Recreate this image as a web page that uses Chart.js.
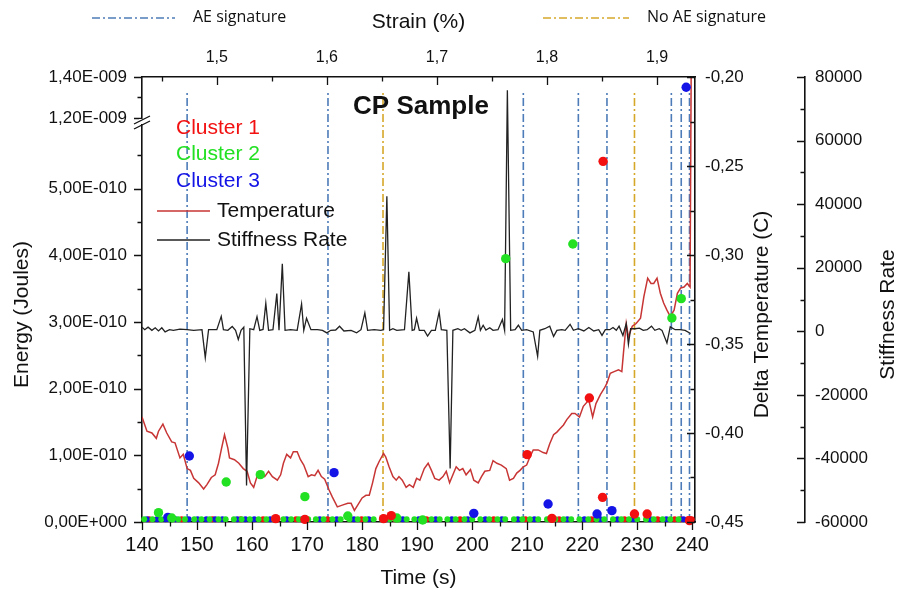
<!DOCTYPE html>
<html lang="en">
<head>
<meta charset="UTF-8">
<title>CP Sample</title>
<script src="https://cdn.jsdelivr.net/npm/chart.js"></script>
<style>
  body { margin: 0; background: #fff; }
  #wrap { width: 897px; height: 593px; }
</style>
</head>
<body>
<div id="wrap"><canvas id="chart" width="897" height="593"></canvas></div>
<script>
// ---- values ----
const timeRange = [140, 240.5];          // s
const strainRange = [1.432, 1.9345];     // % at both ends of the time axis

const timeTicks = [140, 145, 150, 155, 160, 165, 170, 175, 180, 185, 190, 195, 200, 205, 210, 215, 220, 225, 230, 235, 240];
const strainTicks = [1.45, 1.5, 1.55, 1.6, 1.65, 1.7, 1.75, 1.8, 1.85, 1.9];
const energyTicksLow = [0, 0.5e-10, 1e-10, 1.5e-10, 2e-10, 2.5e-10, 3e-10, 3.5e-10, 4e-10, 4.5e-10, 5e-10, 5.5e-10];
const energyTicksHigh = [1.2e-9, 1.3e-9, 1.4e-9];
const tempTicks = [-0.45, -0.425, -0.4, -0.375, -0.35, -0.325, -0.3, -0.275, -0.25, -0.225, -0.2];
const stiffTicks = [-60000, -50000, -40000, -30000, -20000, -10000, 0, 10000, 20000, 30000, 40000, 50000, 60000, 70000, 80000];

const aeSignatureT = [148.2, 173.8, 209.3, 219.3, 224.5, 236.2, 238.0, 239.5];
const noAeSignatureT = [183.8, 229.5];

const tempT = [140.0, 140.9, 141.8, 142.6, 143.0, 143.8, 144.5, 145.4, 146.0, 146.9, 147.5, 148.2, 148.8, 149.4, 150.3,
  151.2, 151.8, 152.6, 153.3, 153.9, 154.4, 155.0, 155.6, 155.9, 156.8, 157.6, 158.4, 159.1, 159.7, 160.3, 160.9,
  161.7, 162.3, 163.0, 163.7, 164.6, 165.2, 165.7, 166.3, 167.0, 167.5, 168.2, 168.8, 169.4, 170.2, 170.8, 171.4,
  172.0, 172.6, 173.2, 174.0, 174.6, 175.5, 176.4, 177.4, 178.0, 178.6, 179.2, 180.0, 180.7, 181.3, 181.9, 182.5,
  183.1, 183.9, 184.3, 184.9, 185.6, 186.2, 186.7, 187.3, 188.0, 188.6, 189.3, 189.9, 190.5, 191.3, 192.0, 192.6,
  193.2, 194.0, 194.7, 195.3, 195.9, 196.5, 197.1, 197.7, 198.3, 198.9, 199.7, 200.3, 201.1, 201.7, 202.3, 203.2,
  203.8, 204.5, 205.3, 206.2, 206.8, 207.5, 208.1, 208.7, 209.3, 209.9, 210.5, 211.1, 212.0, 212.9, 213.5, 214.1,
  214.8, 215.4, 216.0, 216.6, 217.2, 218.1, 218.7, 219.5, 220.2, 221.2, 221.9, 222.5, 223.3, 224.0, 224.5, 225.1,
  225.8, 226.6, 227.2, 227.5, 228.0, 228.4, 229.1, 229.8, 230.6, 231.2, 231.9, 232.5, 233.0, 233.6, 234.2, 234.8,
  235.4, 236.0, 236.7, 237.3, 237.9, 238.5, 239.1, 239.6, 239.8];
const tempV = [-0.391, -0.399, -0.400, -0.403, -0.399, -0.395, -0.400, -0.405, -0.4055, -0.414, -0.412, -0.420, -0.421, -0.4255, -0.428,
  -0.4315, -0.429, -0.425, -0.4235, -0.417, -0.4095, -0.401, -0.4085, -0.414, -0.415, -0.417, -0.420, -0.4215, -0.428, -0.4305, -0.4245,
  -0.4225, -0.4245, -0.4215, -0.4245, -0.4265, -0.4235, -0.417, -0.412, -0.414, -0.4105, -0.4105, -0.415, -0.418, -0.4245, -0.4235, -0.424,
  -0.421, -0.4245, -0.426, -0.432, -0.436, -0.4415, -0.4405, -0.4395, -0.4395, -0.4435, -0.4405, -0.4365, -0.435, -0.435, -0.428, -0.420,
  -0.416, -0.4115, -0.4135, -0.419, -0.4245, -0.4265, -0.4245, -0.4265, -0.4305, -0.429, -0.4305, -0.4255, -0.4265, -0.420, -0.417, -0.421,
  -0.4255, -0.4265, -0.4245, -0.4215, -0.428, -0.4235, -0.419, -0.421, -0.420, -0.4235, -0.4205, -0.4265, -0.428, -0.4245, -0.4215, -0.421,
  -0.4155, -0.417, -0.418, -0.420, -0.4265, -0.4255, -0.4225, -0.421, -0.419, -0.418, -0.4135, -0.4095, -0.4095, -0.411, -0.4115, -0.406,
  -0.401, -0.3995, -0.3975, -0.3955, -0.3925, -0.389, -0.389, -0.391, -0.385, -0.3815, -0.391, -0.3835, -0.3785, -0.375, -0.372, -0.3665,
  -0.3655, -0.3645, -0.3655, -0.355, -0.3385, -0.346, -0.340, -0.3385, -0.3355, -0.3235, -0.313, -0.316, -0.316, -0.313, -0.3215, -0.327,
  -0.331, -0.3345, -0.331, -0.3215, -0.3185, -0.318, -0.316, -0.318, -0.200];

const stiffT = [140.0, 140.5, 141.1, 141.8, 142.4, 143.0, 143.6, 144.2, 145.0, 145.7, 146.9, 148.2, 149.4, 150.9, 151.5, 152.1,
  153.6, 154.4, 154.8, 155.6, 156.4, 157.0, 157.5, 158.0, 158.5, 159.0, 159.6, 160.3, 160.9, 161.4, 162.0, 162.5, 163.0,
  163.8, 164.5, 164.9, 165.5, 166.0, 167.0, 168.2, 169.0, 169.4, 169.9, 170.7, 171.9, 172.8, 173.6, 174.3, 175.2, 175.9,
  176.7, 178.0, 179.0, 179.8, 180.5, 181.0, 182.2, 183.4, 183.9, 184.5, 185.0, 185.6, 186.3, 187.7, 188.5, 189.1, 189.5,
  189.9, 190.4, 191.3, 191.9, 192.6, 193.3, 194.0, 194.4, 195.4, 196.0, 196.5, 197.4, 198.0, 198.6, 199.6, 200.5, 201.1,
  201.5, 202.0, 202.5, 203.2, 203.8, 204.7, 205.5, 205.9, 206.4, 207.0, 207.8, 208.4, 209.0, 209.9, 211.1, 211.9, 212.3,
  213.2, 214.1, 214.8, 215.4, 216.3, 216.9, 217.8, 218.4, 219.3, 220.3, 221.2, 222.1, 223.0, 223.6, 224.2, 225.0, 225.6,
  226.2, 226.7, 227.4, 228.0, 228.4, 228.8, 229.6, 230.4, 231.1, 231.8, 232.6, 233.2, 234.0, 234.5, 235.4, 236.0, 236.9,
  237.8, 238.7, 239.7];
const stiffV = [1300, 500, 1300, 300, 1100, 100, 1100, -200, 500, 300, 700, 500, 300, 500, -8300, 500,
  500, 4700, 500, 300, 1500, 300, -2600, 300, 1300, -48500, 800, 500, 4600, 300, 600, 8800, 300,
  500, 11900, 300, 21200, 300, 500, 300, 8600, 300, 4100, 500, 500, 300, -500, 300, 400, 1600,
  100, 300, -500, 500, 5800, 300, 500, 300, 500, 42500, 300, 800, 300, 500, 18700, 300, 500,
  4100, 300, 300, -1500, 300, 300, 6100, 500, 300, -43200, 300, 800, 300, 800, -500, 300, 4500,
  300, 1900, 400, 1100, 300, 500, 3700, 300, 75800, 300, 500, 1900, 300, 500, -200, -7900, 300,
  800, 1600, -1600, 300, 500, 300, 2200, 300, 800, 100, 1200, 100, 500, -1300, 500, 500, 1200,
  300, 1600, -1300, 2400, -4100, 800, 800, 1000, 300, 500, 1600, 300, 800, 300, -3700, 1400, 500,
  500, 300, -700];

// AE hits (energy in J)
const cluster1T = [164.3, 169.6, 183.9, 185.3, 210.0, 214.5, 221.3, 223.7, 223.8, 229.5, 231.8, 239.5];
const cluster1E = [0.05e-10, 0.04e-10, 0.05e-10, 0.095e-10, 1.01e-10, 0.055e-10, 1.86e-10, 0.37e-10, 5.41e-10, 0.12e-10, 0.12e-10, 0.02e-10];
const cluster2T = [143.0, 145.4, 155.3, 161.5, 169.6, 177.4, 186.3, 191.0, 206.1, 218.3, 236.3, 238.0];
const cluster2E = [0.14e-10, 0.06e-10, 0.60e-10, 0.71e-10, 0.38e-10, 0.09e-10, 0.06e-10, 0.03e-10, 3.95e-10, 4.17e-10, 3.06e-10, 3.35e-10];
const cluster3T = [144.7, 148.6, 174.9, 200.3, 213.8, 222.7, 225.4, 238.9];
const cluster3E = [0.07e-10, 0.99e-10, 0.74e-10, 0.13e-10, 0.27e-10, 0.12e-10, 0.17e-10, 1.35e-9];

// dense band of very low energy hits lying on the time axis
const bandEnergy = 4e-12;
const bandGreenT = [140.4, 141.9, 143.5, 145.0, 146.6, 147.8, 149.5, 150.8, 152.3, 153.9, 155.2, 156.7, 158.1, 159.6, 161.2,
  162.6, 164.0, 165.7, 167.1, 168.5, 170.2, 171.6, 173.0, 174.6, 176.1, 177.7, 179.2, 180.6, 182.1, 183.6, 185.0, 186.6,
  188.1, 189.5, 191.0, 192.6, 194.1, 195.5, 197.0, 198.6, 200.0, 201.5, 203.1, 204.6, 206.0, 207.6, 209.1, 210.5, 212.0,
  213.6, 215.1, 216.6, 218.0, 219.5, 221.1, 222.6, 224.0, 225.6, 227.1, 228.5, 230.0, 231.6, 233.0, 234.6, 236.0, 237.5];
const bandBlueT = [140.9, 142.7, 144.3, 146.1, 148.5, 150.1, 151.7, 153.3, 154.6, 157.3, 158.8, 160.4, 163.3, 166.3, 169.1,
  172.3, 175.4, 178.5, 181.2, 184.3, 187.4, 190.3, 193.4, 196.3, 199.2, 202.4, 205.4, 208.3, 211.3, 214.4, 217.3, 220.4,
  223.3, 226.4, 229.3, 232.4, 235.3, 238.4];
const bandRedT = [141.3, 147.2, 152.8, 157.9, 162.0, 168.0, 173.7, 179.9, 186.0, 191.7, 197.8, 203.9, 209.7, 215.8, 221.7,
  227.7, 233.7, 236.8, 237.9, 239.2, 239.9];

// ---- styling ----
const FONT = "'Liberation Sans', Arial, sans-serif";
const INK = '#111';
const RED = '#f21010';
const GREEN = '#22e022';
const BLUE = '#1414e6';
const TEMP_COLOR = '#c83535';
const STIFF_COLOR = '#222';
const AE_COLOR = '#4d7cb8';
const NOAE_COLOR = '#d6a82a';
const DASHDOT = [8, 3, 2, 3];
const ENERGY_SPLIT = 6e-10;

function energyLabel(v) {
  if (v === 0) return '0,00E+000';
  const exp = Math.floor(Math.log10(Math.abs(v)) + 1e-9);
  const mant = v / Math.pow(10, exp);
  return mant.toFixed(2).replace('.', ',') + 'E' + (exp < 0 ? '-' : '+') + String(Math.abs(exp)).padStart(3, '0');
}

function pairs(xs, ys) {
  return xs.map((x, i) => ({ x: x, y: ys[i] }));
}

function dots(label, ts, es, color, axis, radius, order) {
  return {
    label: label, data: pairs(ts, es), yAxisID: axis,
    pointRadius: radius, pointBackgroundColor: color, pointBorderWidth: 0,
    showLine: false, order: order, clip: false
  };
}

function vline(t, color) {
  return {
    label: 'marker', data: [{ x: t, y: -0.45 }, { x: t, y: -0.208 }], yAxisID: 'yT',
    showLine: true, borderColor: color, borderWidth: 1.6, borderDash: DASHDOT,
    pointRadius: 0, order: 5
  };
}

const lowOf = (ts, es) => ts.map((t, i) => es[i] < ENERGY_SPLIT ? i : -1).filter(i => i >= 0);
const highOf = (ts, es) => ts.map((t, i) => es[i] >= ENERGY_SPLIT ? i : -1).filter(i => i >= 0);
function pick(idx, arr) { return idx.map(i => arr[i]); }

function clusterSets(label, ts, es, color) {
  const lo = lowOf(ts, es), hi = highOf(ts, es);
  return [
    dots(label, pick(lo, ts), pick(lo, es), color, 'yLow', 4.7, 0),
    dots(label, pick(hi, ts), pick(hi, es), color, 'yHi', 4.7, 0)
  ];
}

function band(ts, color) {
  return dots('band', ts, ts.map(() => bandEnergy), color, 'yLow', 3, 1);
}

const datasets = [
  ...aeSignatureT.map(t => vline(t, AE_COLOR)),
  ...noAeSignatureT.map(t => vline(t, NOAE_COLOR)),
  {
    label: 'Temperature', data: pairs(tempT, tempV), yAxisID: 'yT', showLine: true,
    borderColor: TEMP_COLOR, borderWidth: 1.5, pointRadius: 0, order: 4
  },
  {
    label: 'Stiffness Rate', data: pairs(stiffT, stiffV), yAxisID: 'yS', showLine: true,
    borderColor: STIFF_COLOR, borderWidth: 1.3, pointRadius: 0, order: 3
  },
  band(bandGreenT, GREEN),
  band(bandBlueT, BLUE),
  band(bandRedT, RED),
  ...clusterSets('Cluster 1', cluster1T, cluster1E, RED),
  ...clusterSets('Cluster 2', cluster2T, cluster2E, GREEN),
  ...clusterSets('Cluster 3', cluster3T, cluster3E, BLUE)
];

// tick marks are drawn by the plugin below (short minor ones, some pointing inward)
function axisLook(pad, size) {
  return {
    grid: { display: true, drawOnChartArea: false, drawTicks: false },
    border: { display: true, color: INK, width: 1.6 },
    ticks: { color: INK, padding: pad, font: { family: FONT, size: size }, autoSkip: false, maxRotation: 0, minRotation: 0 }
  };
}

function setTicks(values) {
  return scale => { scale.ticks = values.map(v => ({ value: v })); };
}

const xAxis = axisLook(11, 20);
Object.assign(xAxis, {
  type: 'linear', position: 'bottom', min: timeRange[0], max: timeRange[1],
  afterBuildTicks: setTicks(timeTicks),
  afterFit: s => { s.height = 71; },
  title: { display: true, text: 'Time (s)', color: INK, font: { family: FONT, size: 21 }, padding: { top: 0, bottom: 2.5 } }
});
xAxis.ticks.callback = v => (Math.round(v) % 10 === 0 ? String(v) : '');

const xTopAxis = axisLook(10, 16);
Object.assign(xTopAxis, {
  type: 'linear', position: 'top', axis: 'x', min: strainRange[0], max: strainRange[1],
  afterBuildTicks: setTicks(strainTicks),
  afterFit: s => { s.height = 77; },
  title: { display: true, text: 'Strain (%)', color: INK, font: { family: FONT, size: 21 }, padding: { top: 9.5, bottom: 0 } }
});
xTopAxis.ticks.callback = v => (Math.round(v * 100) % 10 === 0 ? v.toFixed(1).replace('.', ',') : '');

const yLowAxis = axisLook(15, 17);
Object.assign(yLowAxis, {
  type: 'linear', position: 'left', axis: 'y', stack: 'energy', stackWeight: 400,
  min: 0, max: ENERGY_SPLIT,
  afterBuildTicks: setTicks(energyTicksLow),
  afterFit: s => { s.width = 142; }
});
yLowAxis.ticks.callback = v => (Math.round(v / 5e-11) % 2 === 0 ? energyLabel(v) : '');

const yHiAxis = axisLook(15, 17);
Object.assign(yHiAxis, {
  type: 'linear', position: 'left', axis: 'y', stack: 'energy', stackWeight: 45,
  min: 1.18e-9, max: 1.4e-9,
  afterBuildTicks: setTicks(energyTicksHigh),
  afterFit: s => { s.width = 142; }
});
yHiAxis.ticks.callback = v => (Math.round(v / 1e-10) % 2 === 0 ? energyLabel(v) : '');

const yTAxis = axisLook(10, 17);
Object.assign(yTAxis, {
  type: 'linear', position: 'right', axis: 'y', min: -0.45, max: -0.2,
  afterBuildTicks: setTicks(tempTicks),
  afterFit: s => { s.width = 110; }
});
yTAxis.ticks.callback = v => (Math.round(v * 1000) % 50 === 0 ? v.toFixed(2).replace('.', ',') : '');

const ySAxis = axisLook(10, 17);
Object.assign(ySAxis, {
  type: 'linear', position: 'right', axis: 'y', min: -60000, max: 80000,
  afterBuildTicks: setTicks(stiffTicks),
  afterFit: s => { s.width = 92; }
});
ySAxis.ticks.callback = v => (v % 20000 === 0 ? String(v) : '');

// which tick marks are long, and which side of the axis line they go
const tickMarks = [
  { id: 'x', edge: 'top', dir: 1, major: v => Math.round(v) % 10 === 0 },
  { id: 'xTop', edge: 'bottom', dir: 1, major: v => Math.round(v * 100) % 10 === 0 },
  { id: 'yLow', edge: 'right', dir: -1, major: v => Math.round(v / 5e-11) % 2 === 0 },
  { id: 'yHi', edge: 'right', dir: -1, major: v => Math.round(v / 1e-10) % 2 === 0 },
  { id: 'yT', edge: 'left', dir: -1, major: v => Math.round(v * 1000) % 50 === 0 },
  { id: 'yS', edge: 'left', dir: -1, major: v => v % 20000 === 0 }
];

// texts and keys that sit around the plot
const decorations = {
  id: 'decorations',
  afterDraw(chart) {
    const ctx = chart.ctx;
    const area = chart.chartArea;
    const midY = (area.top + area.bottom) / 2 + 15;
    ctx.save();

    // tick marks
    ctx.strokeStyle = INK;
    ctx.lineWidth = 1.3;
    tickMarks.forEach(m => {
      const s = chart.scales[m.id];
      ctx.beginPath();
      s.ticks.forEach(t => {
        const p = Math.round(s.getPixelForValue(t.value)) + 0.5;
        const len = m.major(t.value) ? 8 : 4.5;
        const base = s[m.edge];
        if (s.isHorizontal()) {
          ctx.moveTo(p, base);
          ctx.lineTo(p, base + m.dir * len);
        } else {
          ctx.moveTo(base, p);
          ctx.lineTo(base + m.dir * len, p);
        }
      });
      ctx.stroke();
    });

    ctx.fillStyle = INK;
    ctx.textBaseline = 'middle';

    const vText = (text, x, y) => {
      ctx.save();
      ctx.translate(x, y);
      ctx.rotate(-Math.PI / 2);
      ctx.textAlign = 'center';
      ctx.fillText(text, 0, 0);
      ctx.restore();
    };
    ctx.font = '21px ' + FONT;
    vText('Energy (Joules)', 22, midY);
    vText('Delta Temperature (C)', chart.scales.yT.left + 67, midY);
    vText('Stiffness Rate', chart.scales.yS.left + 83, midY);

    // sample name
    ctx.font = 'bold 26px ' + FONT;
    ctx.textAlign = 'center';
    ctx.fillText('CP Sample', 421, 107);

    // key for the dash-dot markers
    const dashKey = (x0, x1, color, text) => {
      ctx.save();
      ctx.strokeStyle = color;
      ctx.lineWidth = 1.6;
      ctx.setLineDash(DASHDOT);
      ctx.beginPath();
      ctx.moveTo(x0, 18);
      ctx.lineTo(x1, 18);
      ctx.stroke();
      ctx.restore();
      ctx.font = "16px 'Open Sans', sans-serif";
      ctx.textAlign = 'left';
      ctx.fillStyle = INK;
      ctx.fillText(text, x1 + 18, 17);
    };
    dashKey(92, 175, AE_COLOR, 'AE signature');
    dashKey(543, 629, NOAE_COLOR, 'No AE signature');

    // key inside the plot
    ctx.font = '21px ' + FONT;
    ctx.textAlign = 'left';
    [['Cluster 1', RED, 128], ['Cluster 2', GREEN, 154], ['Cluster 3', BLUE, 181]].forEach(([t, c, y]) => {
      ctx.fillStyle = c;
      ctx.fillText(t, 176, y);
    });
    [['Temperature', TEMP_COLOR, 211], ['Stiffness Rate', STIFF_COLOR, 240]].forEach(([t, c, y]) => {
      ctx.strokeStyle = c;
      ctx.lineWidth = 1.5;
      ctx.beginPath();
      ctx.moveTo(157, y);
      ctx.lineTo(210, y);
      ctx.stroke();
      ctx.fillStyle = INK;
      ctx.fillText(t, 217, y);
    });

    // axis break on the energy axis
    const bx = area.left;
    const by = chart.scales.yLow.top;
    ctx.fillStyle = '#fff';
    ctx.fillRect(bx - 3, by - 3, 6, 5);
    ctx.strokeStyle = INK;
    ctx.lineWidth = 1.3;
    ctx.beginPath();
    ctx.moveTo(bx - 8, by + 2); ctx.lineTo(bx + 8, by - 6);
    ctx.moveTo(bx - 8, by + 7); ctx.lineTo(bx + 8, by - 1);
    ctx.stroke();
    ctx.restore();
  }
};

new Chart(document.getElementById('chart'), {
  type: 'scatter',
  data: { datasets: datasets },
  options: {
    responsive: false,
    animation: false,
    events: [],
    layout: { padding: 0 },
    plugins: { legend: { display: false }, tooltip: { enabled: false } },
    scales: { x: xAxis, xTop: xTopAxis, yLow: yLowAxis, yHi: yHiAxis, yT: yTAxis, yS: ySAxis }
  },
  plugins: [decorations]
});
</script>
</body>
</html>
